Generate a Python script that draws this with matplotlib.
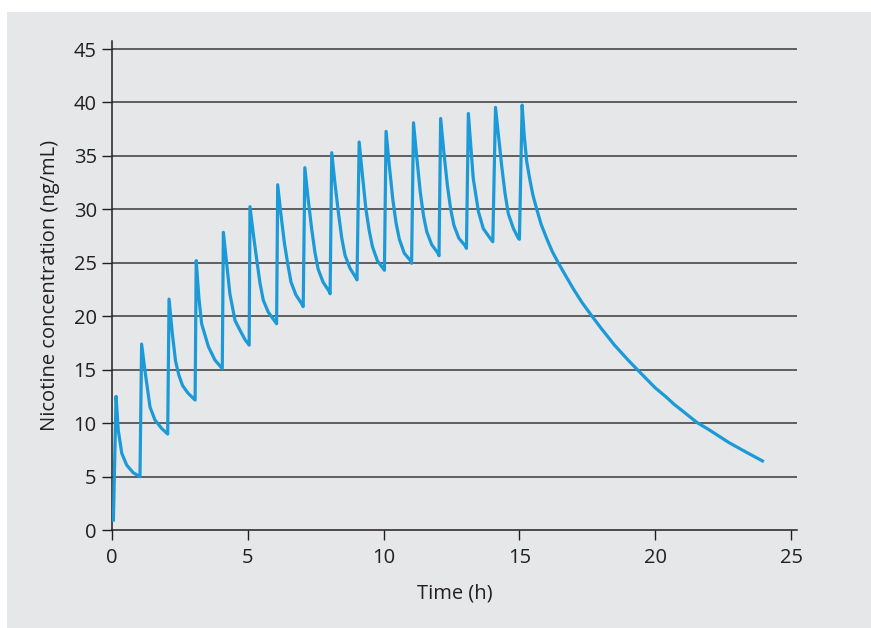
import matplotlib
matplotlib.use('Agg')
import matplotlib.pyplot as plt
from matplotlib.patches import Rectangle

# hourly dosing phase (cycle by cycle)
dose_time = [0.05, 0.15, 0.23, 0.36, 0.54, 0.78, 1.03,
             1.09, 1.21, 1.40, 1.58, 1.83, 2.05,
             2.10, 2.22, 2.34, 2.46, 2.60, 2.80, 3.06,
             3.10, 3.20, 3.30, 3.55, 3.79, 4.06,
             4.10, 4.22, 4.34, 4.53, 4.71, 4.90, 5.05,
             5.08, 5.20, 5.33, 5.45, 5.57, 5.75, 6.00, 6.06,
             6.10, 6.22, 6.35, 6.47, 6.59, 6.77, 7.00, 7.04,
             7.10, 7.22, 7.35, 7.47, 7.59, 7.77, 8.00, 8.03,
             8.09, 8.21, 8.34, 8.46, 8.58, 8.76, 8.98, 9.02,
             9.10, 9.22, 9.35, 9.47, 9.59, 9.77, 10.00, 10.03,
             10.09, 10.21, 10.34, 10.46, 10.58, 10.76, 10.99, 11.03,
             11.10, 11.22, 11.35, 11.47, 11.59, 11.77, 12.00, 12.04,
             12.10, 12.22, 12.35, 12.47, 12.59, 12.77, 13.00, 13.05,
             13.12, 13.22, 13.30, 13.49, 13.67, 13.92, 14.02,
             14.12, 14.22, 14.35, 14.47, 14.59, 14.78, 14.96, 15.00]
dose_conc = [0.78, 12.5, 9.35, 7.17, 6.08, 5.36, 4.99,
             17.4, 14.97, 11.5, 10.3, 9.5, 8.98,
             21.6, 18.4, 15.8, 14.5, 13.5, 12.8, 12.16,
             25.2, 21.7, 19.3, 17.15, 15.9, 15.1,
             27.85, 24.95, 22.1, 19.6, 18.7, 17.8, 17.3,
             30.25, 27.75, 25.26, 23.08, 21.5, 20.4, 19.5, 19.3,
             32.3, 29.5, 26.8, 24.9, 23.2, 22.0, 21.1, 20.9,
             33.9, 31.0, 28.2, 26.0, 24.4, 23.2, 22.3, 22.1,
             35.3, 32.4, 29.6, 27.3, 25.7, 24.5, 23.6, 23.4,
             36.3, 33.2, 30.0, 28.0, 26.5, 25.2, 24.4, 24.3,
             37.3, 34.1, 30.9, 28.7, 27.2, 25.9, 25.2, 24.95,
             38.1, 34.9, 31.6, 29.4, 27.9, 26.7, 25.9, 25.66,
             38.5, 35.3, 32.2, 30.0, 28.5, 27.3, 26.6, 26.35,
             38.97, 35.6, 32.9, 29.8, 28.2, 27.3, 26.97,
             39.54, 37.1, 34.0, 31.5, 29.6, 28.2, 27.3, 27.2]

# washout after the last dose
wash_time = [15.10, 15.18, 15.27, 15.39, 15.50, 15.64, 15.80, 16.00, 16.20,
             16.43, 16.70, 17.00, 17.30, 17.66, 18.00, 18.50, 19.00, 19.32,
             20.00, 20.40, 20.70, 21.00, 21.53, 22.00, 22.70, 23.30, 24.00]
wash_conc = [39.75, 36.8, 34.45, 32.7, 31.3, 30.0, 28.6, 27.3, 26.1,
             25.0, 23.8, 22.5, 21.3, 20.05, 18.9, 17.3, 15.9, 15.06,
             13.3, 12.45, 11.75, 11.15, 10.07, 9.35, 8.2, 7.35, 6.39]

x_ticks = [0, 5, 10, 15, 20, 25]
y_ticks = [0, 5, 10, 15, 20, 25, 30, 35, 40, 45]

plt.rcParams['font.family'] = ['Open Sans', 'DejaVu Sans']
bg = '#e6e7e9'
txt = '#231f20'

fig = plt.figure(figsize=(8.71, 6.28), dpi=100)
fig.patch.set_facecolor('white')
fig.patches.append(Rectangle((7 / 871, 0), 1 - 7 / 871, 1 - 12 / 628,
                             transform=fig.transFigure, facecolor=bg,
                             edgecolor='none', zorder=-1))

ax = fig.add_axes([112 / 871, 98 / 628, 685 / 871, 489 / 628])
ax.set_facecolor('none')

for yv in y_ticks[1:]:
    ax.axhline(yv, color='#3a3a3a', lw=1.1, zorder=1)

ax.plot(dose_time + wash_time, dose_conc + wash_conc, color='#1b9ad7',
        lw=2.3, solid_joinstyle='round', solid_capstyle='butt', zorder=3)

ax.set_xlim(0, 25.22)
ax.set_ylim(0, 45.75)
ax.set_xticks(x_ticks)
ax.set_yticks(y_ticks)
for s in ['top', 'right']:
    ax.spines[s].set_visible(False)
for s in ['left', 'bottom']:
    ax.spines[s].set_color(txt)
    ax.spines[s].set_linewidth(1.1)
ax.tick_params(axis='both', colors=txt, labelsize=14.5, width=1.0, length=7)
ax.tick_params(axis='x', pad=6)
ax.tick_params(axis='y', pad=4)

ax.set_xlabel('Time (h)', fontsize=14.5, color=txt, labelpad=11)
ax.set_ylabel('Nicotine concentration (ng/mL)', fontsize=14.5, color=txt, labelpad=10)

fig.savefig('out.png', dpi=100)
